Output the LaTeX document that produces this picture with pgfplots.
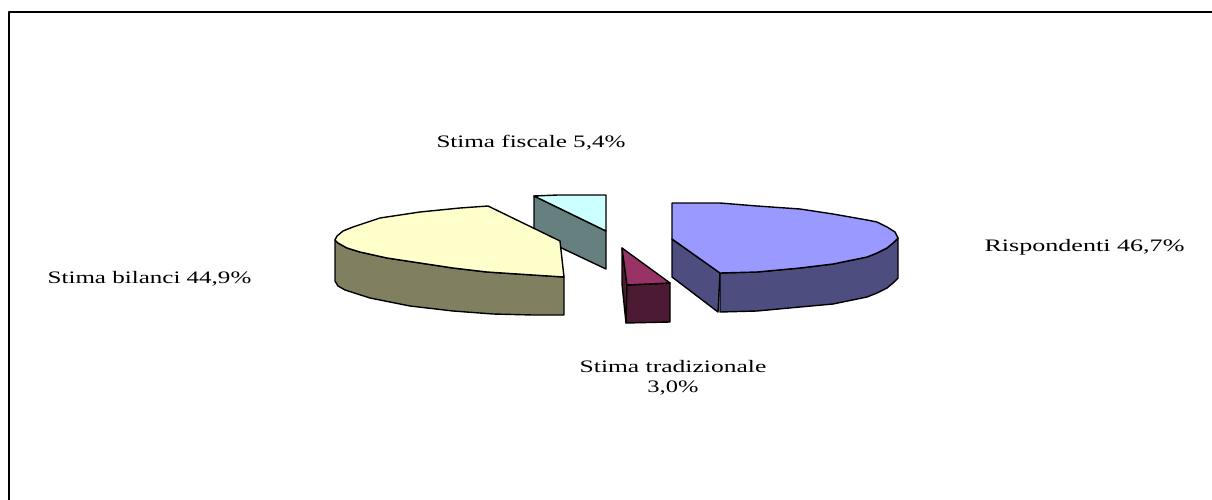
\documentclass[border=0pt]{standalone}
\usepackage{pgfplots}
\pgfplotsset{compat=1.18}
\usepackage{fontspec}
\setmainfont{Liberation Serif}
\definecolor{bilTop}{HTML}{FFFFCC}
\definecolor{bilSide}{HTML}{808060}
\definecolor{fisTop}{HTML}{CCFFFF}
\definecolor{fisSide}{HTML}{668080}
\definecolor{rispTop}{HTML}{9999FF}
\definecolor{rispSide}{HTML}{4D4D80}
\definecolor{traTop}{HTML}{993366}
\definecolor{traSide}{HTML}{4D1A33}
\newcommand{\lab}[2]{\scalebox{#1}[1]{\fontsize{17.5}{21}\selectfont #2}}
\begin{document}
\begin{tikzpicture}
\begin{axis}[
  scale only axis, width=1212pt, height=500pt,
  xmin=0, xmax=1212, ymin=0, ymax=500, y dir=reverse,
  hide axis, clip=true,
  every axis plot/.append style={draw=black, line width=1.4pt, line join=round, mark=none},
]
\path[use as bounding box] (axis cs:0,0) rectangle (axis cs:1212,500);
% Outer frame, open on the right and at the bottom
\addplot[line width=1.4pt] coordinates {(9,500) (9,12) (1212,12)};
% Stima fiscale 5,4%
\addplot[fill=fisSide] coordinates {(534,196) (606,231) (606,269) (534,235)} --cycle;
\addplot[fill=fisTop] coordinates {(534,196) (558,195) (606,195) (606,231)} --cycle;
% Stima bilanci 44,9%
\addplot[fill=bilSide] coordinates {(335,240) (338,243) (347,248) (360,252) (387,258) (420,263) (453,268) (487,272) (533,275) (564,277)
  (564,315) (533,315) (493,314) (453,311) (410,306) (370,298) (345,290) (338,286) (335,281)} --cycle;
\addplot[fill=bilTop] coordinates {(488,206) (560,241) (564,277) (533,275) (487,272) (453,268) (420,263) (387,258) (360,252)
  (347,248) (338,243) (335,240) (337,236) (343,231) (353,227) (380,218) (400,215) (420,212) (440,210) (460,208)} --cycle;
% Stima tradizionale 3,0%
\addplot[fill=traSide] coordinates {(622,248) (627,285) (626,323) (622,284)} --cycle;
\addplot[fill=traSide] coordinates {(627,285) (670,283) (670,322) (626,323)} --cycle;
\addplot[fill=traTop] coordinates {(622,248) (670,283) (627,285)} --cycle;
% Rispondenti 46,7%
\addplot[fill=rispSide] coordinates {(672,239) (720,273) (718,312) (672,277)} --cycle;
\addplot[fill=rispSide] coordinates {(720,273) (757,272) (800,268) (833,264) (867,257) (877,253) (887,248) (893,243) (898,238)
  (898,278) (893,283) (887,288) (877,293) (867,297) (833,304) (800,307) (757,311) (720,312)} --cycle;
\addplot[fill=rispTop] coordinates {(672,203) (720,203) (757,206) (800,209) (833,214) (867,220) (877,222) (887,227) (895,232) (898,238)
  (893,243) (887,248) (877,253) (867,257) (833,264) (800,268) (757,272) (720,273) (672,239)} --cycle;
% Labels
\node at (axis cs:531,143) {\lab{1.435}{Stima fiscale 5,4\%}};
\node at (axis cs:149.5,279) {\lab{1.43}{Stima bilanci 44,9\%}};
\node at (axis cs:1084.5,247) {\lab{1.49}{Rispondenti 46,7\%}};
\node at (axis cs:673,367) {\lab{1.46}{Stima tradizionale}};
\node at (axis cs:673,388) {\lab{1.4}{3,0\%}};
\end{axis}
\end{tikzpicture}
\end{document}
